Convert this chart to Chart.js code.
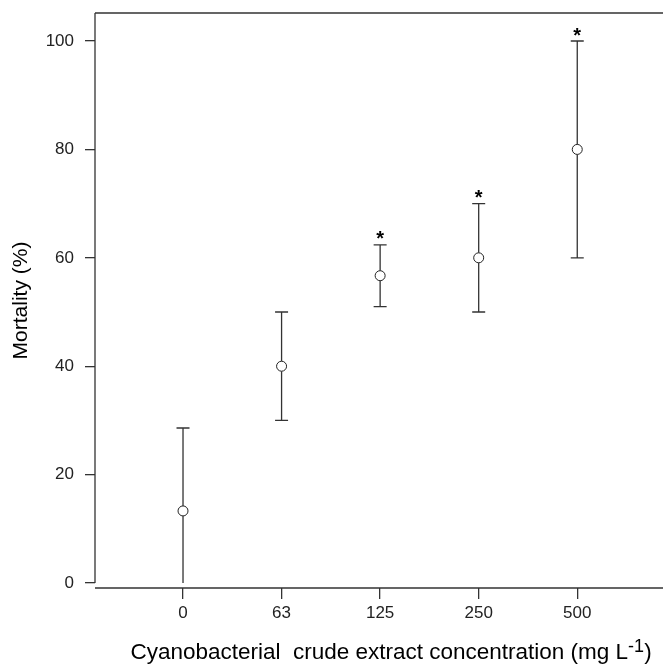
<!DOCTYPE html>
<html>
<head>
<meta charset="utf-8">
<script src="https://cdn.jsdelivr.net/npm/chart.js@4.4.0/dist/chart.umd.min.js"></script>
<style>
  body { margin: 0; background: #fff; }
  canvas { display: block; }
</style>
</head>
<body>
<canvas id="chart" width="663" height="664"></canvas>
<script>
// --- Data ---
const categories = ['0', '63', '125', '250', '500'];
const meanMortality = [13.3, 40, 56.7, 60, 80];
const lowerBound = [0, 30, 51, 50, 60];
const upperBound = [28.6, 50, 62.4, 70, 100];
const significant = [false, false, true, true, true];
const yTicks = [0, 20, 40, 60, 80, 100];

const axisColor = '#333';
const fontFamily = '"Liberation Sans", Arial, sans-serif';

// error bars, stars, frame lines and axis titles
const decorPlugin = {
    id: 'decor',
    afterDatasetsDraw(chart) {
        const { ctx, chartArea, scales } = chart;
        const xs = scales.x, ys = scales.y;
        ctx.save();
        ctx.strokeStyle = axisColor;
        ctx.lineWidth = 1.3;

        // frame: left axis down to 0, top line, bottom axis
        ctx.beginPath();
        ctx.moveTo(chartArea.left, chartArea.top);
        ctx.lineTo(chartArea.left, ys.getPixelForValue(0));
        ctx.moveTo(chartArea.left, chartArea.top);
        ctx.lineTo(chartArea.right, chartArea.top);
        ctx.moveTo(chartArea.left, chartArea.bottom);
        ctx.lineTo(chartArea.right, chartArea.bottom);
        ctx.stroke();

        // error bars
        categories.forEach((c, i) => {
            const x = xs.getPixelForValue(i);
            const yLo = ys.getPixelForValue(lowerBound[i]);
            const yHi = ys.getPixelForValue(upperBound[i]);
            const yMid = ys.getPixelForValue(meanMortality[i]);
            ctx.beginPath();
            ctx.moveTo(x, yHi);
            ctx.lineTo(x, yMid - 5);
            ctx.moveTo(x, yMid + 5);
            ctx.lineTo(x, yLo);
            ctx.moveTo(x - 6.5, yHi);
            ctx.lineTo(x + 6.5, yHi);
            if (lowerBound[i] > 0) {
                ctx.moveTo(x - 6.5, yLo);
                ctx.lineTo(x + 6.5, yLo);
            }
            ctx.stroke();

            if (significant[i]) {
                ctx.fillStyle = '#000';
                ctx.font = 'bold 20px ' + fontFamily;
                ctx.textAlign = 'center';
                ctx.textBaseline = 'alphabetic';
                ctx.fillText('*', x, yHi + 0.5);
            }
        });

        // y title
        ctx.fillStyle = '#000';
        ctx.font = '21px ' + fontFamily;
        ctx.textAlign = 'center';
        ctx.textBaseline = 'middle';
        ctx.save();
        ctx.translate(21, (chartArea.top + chartArea.bottom) / 2);
        ctx.rotate(-Math.PI / 2);
        ctx.fillText('Mortality (%)', 0, 0);
        ctx.restore();

        // x title with superscript
        const main = 'Cyanobacterial  crude extract concentration (mg L';
        const sup = '-1';
        const tail = ')';
        ctx.font = '22.5px ' + fontFamily;
        const wMain = ctx.measureText(main).width;
        const wTail = ctx.measureText(tail).width;
        ctx.font = '18px ' + fontFamily;
        const wSup = ctx.measureText(sup).width;
        const total = wMain + wSup + wTail;
        let xPos = 391 - total / 2;
        const base = 659;
        ctx.textAlign = 'left';
        ctx.textBaseline = 'alphabetic';
        ctx.font = '22.5px ' + fontFamily;
        ctx.fillText(main, xPos, base);
        xPos += wMain;
        ctx.font = '18px ' + fontFamily;
        ctx.fillText(sup, xPos, base - 7);
        xPos += wSup;
        ctx.font = '22.5px ' + fontFamily;
        ctx.fillText(tail, xPos, base);
        ctx.restore();
    }
};

const chart = new Chart(document.getElementById('chart'), {
    type: 'scatter',
    data: {
        datasets: [{
            data: meanMortality.map((v, i) => ({ x: i, y: v })),
            pointStyle: 'circle',
            pointRadius: 5,
            pointBorderWidth: 1,
            pointBorderColor: '#222',
            pointBackgroundColor: 'rgba(0,0,0,0)',
            showLine: false
        }]
    },
    options: {
        responsive: false,
        animation: false,
        layout: {
            autoPadding: false,
            padding: { top: 13, right: 0, left: 0, bottom: 0 }
        },
        plugins: {
            legend: { display: false },
            tooltip: { enabled: false }
        },
        scales: {
            x: {
                type: 'linear',
                min: -0.893,
                max: 4.87,
                afterFit: (scale) => {
                    scale.height = 76;
                    scale.paddingLeft = 0;
                    scale.paddingRight = 0;
                },
                afterBuildTicks: (scale) => {
                    scale.ticks = categories.map((c, i) => ({ value: i }));
                },
                border: { display: false },
                grid: {
                    drawOnChartArea: false,
                    drawTicks: true,
                    tickLength: 11,
                    color: axisColor,
                    lineWidth: 1.3
                },
                ticks: {
                    padding: 4,
                    color: '#222',
                    font: { family: fontFamily, size: 17 },
                    callback: (v) => categories[v] ?? ''
                }
            },
            y: {
                min: -0.92,
                max: 105.17,
                afterFit: (scale) => {
                    scale.width = 95;
                    scale.paddingTop = 0;
                    scale.paddingBottom = 0;
                },
                afterBuildTicks: (scale) => {
                    scale.ticks = yTicks.map(v => ({ value: v }));
                },
                border: { display: false },
                grid: {
                    drawOnChartArea: false,
                    drawTicks: true,
                    tickLength: 10,
                    color: axisColor,
                    lineWidth: 1.3
                },
                ticks: {
                    padding: 11,
                    color: '#222',
                    font: { family: fontFamily, size: 17 }
                }
            }
        }
    },
    plugins: [decorPlugin]
});
</script>
</body>
</html>
